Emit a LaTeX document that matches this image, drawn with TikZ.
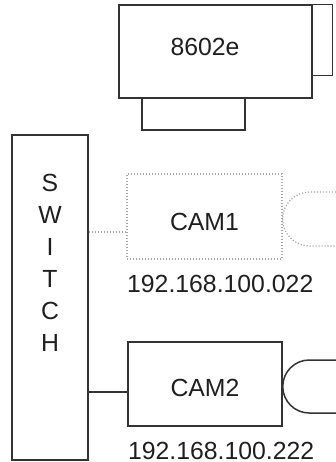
\documentclass[tikz,border=0pt]{standalone}
\usepackage{fontspec}
\setmainfont{Liberation Sans}
\usetikzlibrary{positioning}

\begin{document}
\begin{tikzpicture}[x=0.5pt,y=-0.5pt,line width=0.75pt,
  every node/.style={text=black!88,font=\fontsize{12.4}{16}\selectfont},
  box/.style={draw=black!80,inner sep=0pt},
  dotbox/.style={draw=black!35,line width=0.6pt,dash pattern=on 0.6pt off 0.9pt,inner sep=0pt},
  wire/.style={draw=black!80},
  dotwire/.style={draw=black!35,line width=0.6pt,dash pattern=on 0.6pt off 0.9pt},
  iplabel/.style={inner sep=0pt}]
\useasboundingbox (0,0) rectangle (336,462);
% recorder
\node[box,minimum width=96.5pt,minimum height=46.5pt] (nvr) at (215.5,51.5) {};
\node (nvrtxt) at (205,47) {8602e};
\draw[wire] (nvr.north east) -- ++(20,0) -- ++(0,71) -- ++(-20,0);
\draw[wire] (nvr.south west) ++(24,0) |- ++(103,31) -- ++(0,-31);
% switch
\node[box,minimum width=38pt,minimum height=162.5pt] (sw) at (50,297.5) {};
\node[align=center] (swtxt) at (50,262.5) {S\\W\\I\\T\\C\\H};
% cameras
\node[dotbox,minimum width=77.5pt,minimum height=42.5pt,
  label={[yshift=-2.5pt]center:CAM1}] (cam1) at (204.5,216.5) {};
\node[iplabel,below right=7.5pt and 0pt of cam1.south west] (ip1) {192.168.100.022};
\node[box,minimum width=77pt,minimum height=42pt,
  label={[yshift=-2pt]center:CAM2}] (cam2) at (205,384) {};
\node[iplabel,below right=7.5pt and 0pt of cam2.south west] (ip2) {192.168.100.222};
% links
\coordinate (p1) at (cam1.west |- 0,232);
\coordinate (p2) at (cam2.west |- 0,392);
\draw[dotwire] (sw.east |- p1) -- (p1);
\draw[wire] (sw.east |- p2) -- (p2);
% lens ends
\draw[dotwire,rounded corners=13.5pt] (336,192) -- (cam1.east |- 0,192) -- (cam1.east |- 0,246) -- (336,246);
\draw[wire,rounded corners=13.25pt] (336,360) -- (cam2.east |- 0,360) -- (cam2.east |- 0,413) -- (336,413);
\end{tikzpicture}
\end{document}
